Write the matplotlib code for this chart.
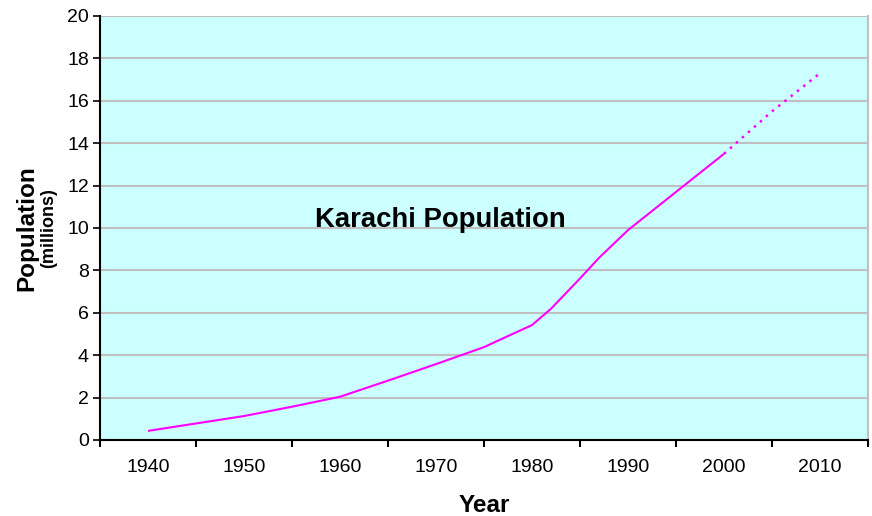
import matplotlib
matplotlib.use("Agg")
import matplotlib.pyplot as plt
import numpy as np

plt.rcParams['font.family'] = ['Liberation Sans', 'DejaVu Sans']

# Data
years_actual = [1940, 1945, 1950, 1955, 1960, 1965, 1970, 1975, 1977, 1980, 1982, 1985, 1987, 1990, 1995, 2000]
pop_actual = [0.43, 0.78, 1.13, 1.57, 2.04, 2.80, 3.58, 4.38, 4.80, 5.42, 6.2, 7.62, 8.6, 9.9, 11.7, 13.5]
years_proj = [2000, 2005, 2010]
pop_proj = [13.5, 15.5, 17.3]
label_years = [1940, 1950, 1960, 1970, 1980, 1990, 2000, 2010]
y_ticks = [0, 2, 4, 6, 8, 10, 12, 14, 16, 18, 20]

W, H = 872, 516
fig = plt.figure(figsize=(W / 100, H / 100), dpi=100)
ax = fig.add_axes([100 / W, 1 - 440 / H, 768 / W, 424 / H])
ax.set_facecolor('#CCFFFF')

ax.plot(years_actual, pop_actual, color='#FF00FF', lw=1.5, solid_capstyle='butt', zorder=3)
ax.plot(years_proj, pop_proj, color='#FF00FF', lw=1.8, linestyle=(0, (1.0, 2.2)), zorder=3)

ax.set_xlim(1935, 2015)
ax.set_ylim(0, 20)
ax.set_yticks(y_ticks)
ax.set_yticklabels([str(v) for v in y_ticks])
ax.yaxis.grid(True, color='#C0C0C0', lw=1.5)
ax.set_axisbelow(True)

ax.set_xticks([1935 + 10 * i for i in range(9)])
ax.set_xticklabels([])
ax.set_xticks(label_years, minor=True)
ax.set_xticklabels([str(y) for y in label_years], minor=True)
ax.tick_params(axis='x', which='minor', length=0, pad=14, labelsize=14)
ax.tick_params(axis='x', which='major', length=5, width=1.5, direction='out')
ax.tick_params(axis='y', length=5, width=1.2, direction='out', labelsize=14, pad=3)

for s in ['left', 'bottom']:
    ax.spines[s].set_color('black')
    ax.spines[s].set_linewidth(1.5)
ax.spines['top'].set_visible(False)
ax.spines['right'].set_color('#C0C0C0')
ax.spines['right'].set_linewidth(1.5)

fig.text(484 / W, 1 - 506 / H, 'Year', ha='center', va='center', fontsize=17.5, fontweight='bold')
fig.text(27 / W, 1 - 228 / H, 'Population', ha='center', va='center', rotation=90, fontsize=17.5, fontweight='bold')
fig.text(49 / W, 1 - 228 / H, '(millions)', ha='center', va='center', rotation=90, fontsize=13, fontweight='bold')

ax.text(0.28, 0.519, 'Karachi Population', transform=ax.transAxes, ha='left', va='center',
        fontsize=19.8, fontweight='bold')

fig.savefig('out.png', dpi=100)
